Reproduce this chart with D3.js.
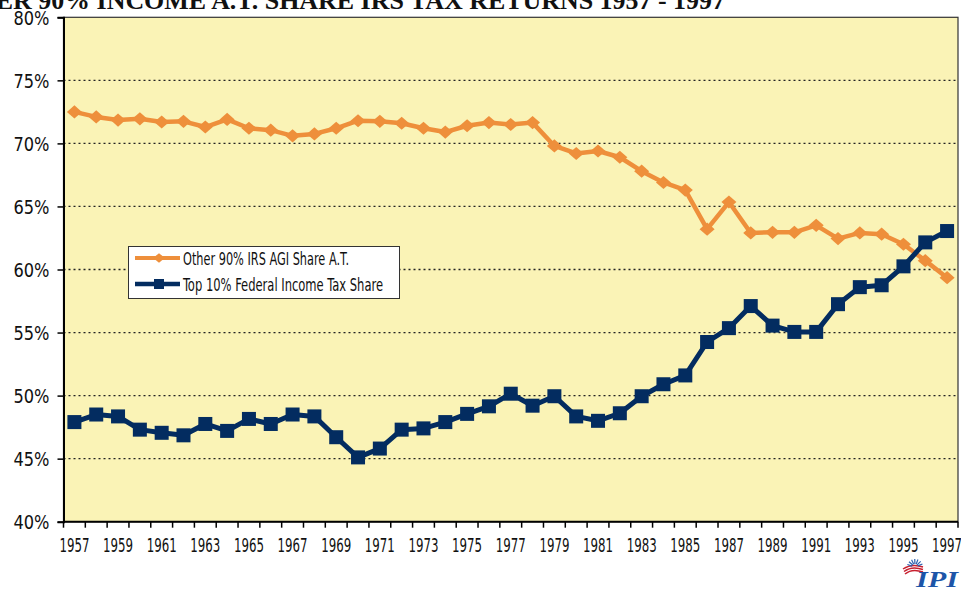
<!DOCTYPE html>
<meta charset="utf-8">
<style>
  body { margin: 0; background: #fff; }
  .lbl { font-family: "DejaVu Sans Condensed", "Liberation Sans Narrow", "Roboto", sans-serif; fill: #111; }
  .title { font-family: "Liberation Serif", "DejaVu Serif", serif; fill: #111; }
</style>
<script src="https://cdnjs.cloudflare.com/ajax/libs/d3/7.8.5/d3.min.js"></script>
<body>
<script>

  var years = d3.range(1957, 1998);
  var other90 = [72.5, 72.1, 71.85, 71.95, 71.7, 71.75, 71.3, 71.9, 71.2, 71.05,
                 70.6, 70.75, 71.2, 71.8, 71.75, 71.6, 71.2, 70.9, 71.4, 71.65,
                 71.5, 71.65, 69.8, 69.2, 69.4, 68.9, 67.8, 66.9, 66.3, 63.2,
                 65.35, 62.9, 62.95, 62.95, 63.5, 62.45, 62.9, 62.8, 62.0, 60.7, 59.35];
  var top10 = [47.9, 48.5, 48.35, 47.3, 47.05, 46.85, 47.75, 47.2, 48.15, 47.75,
               48.5, 48.35, 46.7, 45.1, 45.8, 47.3, 47.4, 47.9, 48.55, 49.15,
               50.15, 49.2, 49.95, 48.35, 48.0, 48.6, 49.95, 50.9, 51.6, 54.25,
               55.35, 57.1, 55.55, 55.05, 55.05, 57.25, 58.6, 58.75, 60.25, 62.15, 63.05];
  var yTicks = [40, 45, 50, 55, 60, 65, 70, 75, 80];
  var seriesNames = ["Other 90% IRS AGI Share A.T.", "Top 10% Federal Income Tax  Share"];
  var titleText = "OTHER 90% INCOME A.T. SHARE IRS TAX RETURNS 1957 - 1997";

  var w = 961, h = 589;
  var pLeft = 63.5, pRight = 958, pTop = 17.3, pBottom = 521.7;
  var orange = "#EE8F3B", navy = "#032C60";

  var svg = d3.select("body").append("svg")
              .attr("width", w)
              .attr("height", h);

  var x = d3.scaleBand().domain(years).range([pLeft, pRight]);
  var y = d3.scaleLinear().domain([40, 80]).range([pBottom, pTop]);
  var cx = function (i) { return x(years[i]) + x.bandwidth() / 2; };

  // title, clipped by the top of the picture
  svg.append("text")
     .attr("class", "title")
     .attr("x", -62).attr("y", 8.5)
     .attr("textLength", 787)
     .attr("lengthAdjust", "spacingAndGlyphs")
     .style("font-size", "25px")
     .style("font-weight", "bold")
     .text(titleText);

  // plot area
  svg.append("rect")
     .attr("x", pLeft).attr("y", pTop)
     .attr("width", pRight - pLeft).attr("height", pBottom - pTop)
     .attr("fill", "#FAF3B6")
     .attr("stroke", "#333").attr("stroke-width", 1.2);

  // gridlines
  svg.selectAll(".grid")
     .data(yTicks.filter(function (d) { return d > 40 && d < 80; }))
     .enter().append("line")
     .attr("x1", pLeft).attr("x2", pRight)
     .attr("y1", function (d) { return y(d); })
     .attr("y2", function (d) { return y(d); })
     .attr("stroke", "#222")
     .attr("stroke-width", 1.3)
     .attr("stroke-dasharray", "2,3");

  // y axis
  var yAxis = d3.axisLeft(y).tickValues(yTicks)
                .tickFormat(function (d) { return d + "%"; })
                .tickSize(6).tickPadding(8);
  var ga = svg.append("g").attr("transform", "translate(" + pLeft + ",0)").call(yAxis);
  ga.select(".domain").attr("stroke", "#000").attr("stroke-width", 2);
  ga.selectAll(".tick line").attr("stroke", "#000").attr("stroke-width", 1.5);
  ga.selectAll("text")
    .attr("class", "lbl")
    .attr("fill", "#111")
    .attr("dy", "0.36em")
    .attr("textLength", 36)
    .attr("lengthAdjust", "spacingAndGlyphs")
    .style("font-size", "20px");

  // x axis: ticks between categories, labels every other year
  var bx = svg.append("g");
  bx.append("line")
    .attr("x1", pLeft).attr("x2", pRight)
    .attr("y1", pBottom).attr("y2", pBottom)
    .attr("stroke", "#000").attr("stroke-width", 2);
  bx.selectAll(".xt")
    .data(years.concat([1998]))
    .enter().append("line")
    .attr("x1", function (d) { return d === 1998 ? pRight : x(d); })
    .attr("x2", function (d) { return d === 1998 ? pRight : x(d); })
    .attr("y1", pBottom).attr("y2", pBottom + 6)
    .attr("stroke", "#000").attr("stroke-width", 1.5);
  bx.selectAll(".xl")
    .data(years.filter(function (d) { return (d - 1957) % 2 === 0; }))
    .enter().append("text")
    .attr("class", "lbl")
    .attr("x", function (d) { return x(d) + x.bandwidth() / 2 - 15; })
    .attr("y", 552)
    .attr("textLength", 30)
    .attr("lengthAdjust", "spacingAndGlyphs")
    .style("font-size", "20px")
    .text(function (d) { return d; });

  var line = d3.line()
               .x(function (d, i) { return cx(i); })
               .y(function (d) { return y(d); });

  // other 90% series
  svg.append("path").datum(other90)
     .attr("d", line).attr("fill", "none")
     .attr("stroke", orange).attr("stroke-width", 4.5)
     .attr("stroke-linejoin", "round");
  svg.selectAll(".dia").data(other90).enter().append("path")
     .attr("d", d3.symbol().type(d3.symbolDiamond2).size(100))
     .attr("transform", function (d, i) {
        return "translate(" + cx(i) + "," + y(d) + ") scale(1.2,1.05)";
     })
     .attr("fill", orange);

  // top 10% series
  svg.append("path").datum(top10)
     .attr("d", line).attr("fill", "none")
     .attr("stroke", navy).attr("stroke-width", 5)
     .attr("stroke-linejoin", "round");
  svg.selectAll(".sq").data(top10).enter().append("rect")
     .attr("x", function (d, i) { return cx(i) - 7; })
     .attr("y", function (d) { return y(d) - 7; })
     .attr("width", 14).attr("height", 14)
     .attr("fill", navy);

  // legend
  var lg = svg.append("g");
  lg.append("rect")
    .attr("x", 128.5).attr("y", 246.5).attr("width", 271).attr("height", 52)
    .attr("fill", "#fff").attr("stroke", "#333").attr("stroke-width", 1);
  var ly = [258, 284];
  var lw = [166, 200];
  lg.append("line").attr("x1", 135).attr("x2", 180).attr("y1", ly[0]).attr("y2", ly[0])
    .attr("stroke", orange).attr("stroke-width", 4);
  lg.append("path")
    .attr("d", d3.symbol().type(d3.symbolDiamond2).size(60))
    .attr("transform", "translate(159," + ly[0] + ") scale(1.2,1)")
    .attr("fill", orange);
  lg.append("line").attr("x1", 135).attr("x2", 180).attr("y1", ly[1]).attr("y2", ly[1])
    .attr("stroke", navy).attr("stroke-width", 4.5);
  lg.append("rect").attr("x", 154).attr("y", ly[1] - 5).attr("width", 10).attr("height", 10)
    .attr("fill", navy);
  lg.selectAll(".lt").data(seriesNames).enter().append("text")
    .attr("class", "lbl")
    .attr("x", 183)
    .attr("y", function (d, i) { return ly[i] + 6.5; })
    .attr("textLength", function (d, i) { return lw[i]; })
    .attr("lengthAdjust", "spacingAndGlyphs")
    .style("font-size", "17.5px")
    .text(function (d) { return d; });

  // IPI logo
  var logo = svg.append("g");
  [0, 1, 2].forEach(function (k) {
    logo.append("path")
        .attr("d", "M" + (903 + k) + "," + (569 + k * 2.5) + " Q912," + (563 + k * 2.5) + " 923," + (567 + k * 2.5))
        .attr("fill", "none").attr("stroke", "#C8202F").attr("stroke-width", 1.5);
  });
  d3.range(7).forEach(function (k) {
    var a = -Math.PI * (0.12 + k * 0.13);
    logo.append("line")
        .attr("x1", 915 + Math.cos(a) * 3).attr("y1", 567 + Math.sin(a) * 3)
        .attr("x2", 915 + Math.cos(a) * 8).attr("y2", 567 + Math.sin(a) * 8)
        .attr("stroke", "#2D62B0").attr("stroke-width", 1.2);
  });
  logo.append("text")
      .attr("x", 916).attr("y", 587)
      .attr("textLength", 42)
      .attr("lengthAdjust", "spacingAndGlyphs")
      .attr("fill", "#1D55A8")
      .style("font-family", "'Liberation Serif', serif")
      .style("font-style", "italic").style("font-weight", "bold")
      .style("font-size", "24px")
      .text("IPI");

</script>
</body>
